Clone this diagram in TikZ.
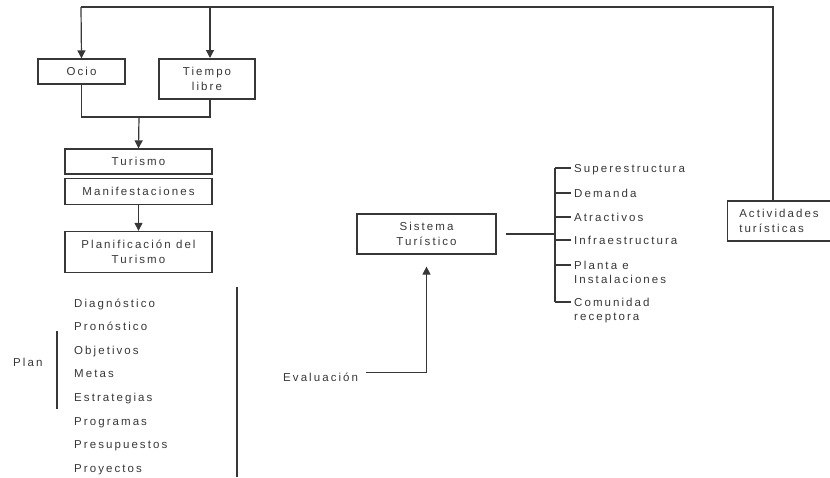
\documentclass[tikz,border=0pt]{standalone}
\usepackage{fontspec}
\setmainfont{Liberation Sans}[LetterSpace=18]
\definecolor{line-gray}{RGB}{55,55,55}
\definecolor{text-gray}{RGB}{55,55,55}
\usetikzlibrary{arrows.meta}
\usetikzlibrary{positioning}

\begin{document}
\begin{tikzpicture}[%
            x=1pt,
            y=-1pt,
            box/.style={%
              draw=line-gray,
              line width=1.2pt,
              align=center,
              inner sep=2pt,
              text=text-gray,
              font=\fontsize{11.5}{14.5}\selectfont,
            },
            item/.style={%
              anchor=base west,
              align=left,
              inner sep=0pt,
              text=text-gray,
              font=\fontsize{11.5}{14.5}\selectfont,
            },
            link/.style={line-gray, line width=1.2pt},
            arrow/.style={link, -{Triangle[length=8pt,width=8pt]}},
          ]
            \useasboundingbox (0,0) rectangle (830,477);

            % top row
            \node [box, minimum width=87pt, minimum height=25pt] (ocio) at (81.5,71.5) {Ocio};
            \node [box, minimum width=96pt, minimum height=40pt] (tiempo) at (207,79) {Tiempo\\libre};
            \node [%
              box,
              align=left,
              minimum width=103pt,
              minimum height=40pt,
            ] (actividades) at (779,221) {Actividades\\turísticas};
            \coordinate (top left) at (81,7);
            \draw [link] ([xshift=-6pt]actividades.north) |- (top left);
            \draw [arrow] (top left) -- (ocio.north);
            \draw [arrow] (top left -| 210,0) -- (210,58);

            % planning column
            \node [box, minimum width=147pt, minimum height=25pt] (turismo) at (138.5,161.5) {Turismo};
            \node [%
              box,
              minimum width=147pt,
              minimum height=26pt,
              below=3pt of turismo,
            ] (manifestaciones) {Manifestaciones};
            \node [%
              box,
              minimum width=147pt,
              minimum height=41pt,
              below=26pt of manifestaciones,
            ] (planificacion) {Planificación del\\Turismo};
            \coordinate (join) at (139,117);
            \draw [link] (ocio.south) |- (join) -| (210,99);
            \draw [arrow] (join) -- (turismo.north);
            \draw [arrow] (manifestaciones.south) -- (planificacion.north);

            \foreach \name/\label [count=\i] in {%
                diagnostico/Diagnóstico,
                pronostico/Pronóstico,
                objetivos/Objetivos,
                metas/Metas,
                estrategias/Estrategias,
                programas/Programas,
                presupuestos/Presupuestos,
                proyectos/Proyectos}
              \node [item] (\name) at (74,307+23.6*\i-23.6) {\label};
            \node [item] (plan) at (13,366) {Plan};
            \draw [link] (57,331) -- (57,409);
            \draw [link] (237,287) -- (237,477);

            % tourist system
            \node [box, minimum width=139pt, minimum height=40pt] (sistema) at (426.5,234) {Sistema\\Turístico};
            \node [item] (evaluacion) at (283,381) {Evaluación};
            \draw [arrow, shorten <=8pt, shorten >=12pt] (evaluacion.east) ++(0,-4) -| (sistema.south);
            \coordinate (bus) at (555,234);
            \draw [link, shorten <=9pt] (sistema.east) -- (bus);

            % tick y / baseline of last line
            \foreach \name/\label/\y/\b in {%
                superestructura/Superestructura/168/172,
                demanda/Demanda/193/197,
                atractivos/Atractivos/217/221,
                infraestructura/Infraestructura/240/244,
                planta/Planta e\\Instalaciones/265/283.5,
                comunidad/Comunidad\\receptora/302/320.5}
            {
              \node [item] (\name) at (574,\b) {\label};
              \draw [link] (bus |- 0,\y) -- (571,\y);
            }
            \draw [link] (555,168) -- (555,302);
          \end{tikzpicture}
\end{document}
